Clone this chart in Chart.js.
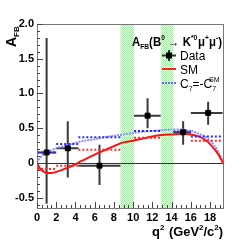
<!DOCTYPE html>
<html><head><meta charset="utf-8">
<script src="https://cdn.jsdelivr.net/npm/chart.js@4/dist/chart.umd.min.js"></script>
<style>html,body{margin:0;padding:0;background:#fff}#wrap{width:249px;height:242px}</style>
</head><body><div id="wrap"><canvas id="c" width="249" height="242"></canvas></div>
<script>
// ---- data ----
const binLo = [0, 2, 4.3, 10.09, 14.18, 16];
const binHi = [2, 4.3, 8.68, 12.86, 16, 19.3];
const dataX = [1.0, 3.2, 6.5, 11.5, 15.2, 17.8];
const dataY = [0.15, 0.21, -0.04, 0.68, 0.44, 0.72];
const errUp = [1.65, 0.39, 0.30, 0.25, 0.16, 0.16];
const errDown = [0.74, 0.42, 0.28, 0.18, 0.18, 0.17];
const smQ = [0, 0.3, 0.6, 1.0, 1.5, 2, 3, 4, 4.5, 5, 6, 6.5, 7, 8, 8.65, 9, 10, 11, 12, 13, 14, 15, 16, 17, 17.5, 18, 18.5, 19, 19.35];
const smA = [0, -0.08, -0.12, -0.145, -0.145, -0.13, -0.08, -0.02, 0.02, 0.05, 0.12, 0.15, 0.18, 0.24, 0.28, 0.295, 0.32, 0.35, 0.38, 0.40, 0.41, 0.42, 0.41, 0.37, 0.33, 0.27, 0.19, 0.09, 0];
const c7Q = [0, 0.3, 0.6, 1.0, 2, 3, 4, 5, 6, 7, 8, 9, 10, 11, 12, 13, 14, 15, 16, 17, 17.5, 18, 18.5, 19, 19.35];
const c7A = [0, 0.07, 0.11, 0.15, 0.21, 0.25, 0.29, 0.32, 0.34, 0.37, 0.39, 0.41, 0.43, 0.45, 0.46, 0.47, 0.48, 0.48, 0.46, 0.41, 0.38, 0.32, 0.24, 0.12, 0];
const smBin = [-0.09, -0.04, 0.19, 0.36, 0.42, 0.32];
const c7Bin = [0.15, 0.27, 0.37, 0.46, 0.45, 0.38];
const vetoLo = [8.68, 12.86];
const vetoHi = [10.09, 14.18];
const xTicks = [0, 2, 4, 6, 8, 10, 12, 14, 16, 18];
const yTicks = [-0.5, 0, 0.5, 1, 1.5, 2];

function binSegments(vals){
  const out=[];
  vals.forEach((v,i)=>{out.push({x:binLo[i],y:v});out.push({x:binHi[i],y:v});out.push({x:binHi[i],y:null});});
  return out;
}
const FONT='"Liberation Sans", Arial, sans-serif';

function makePattern(ctx){
  const p=document.createElement('canvas');p.width=2;p.height=2;
  const g=p.getContext('2d');g.fillStyle='#ffffff';g.fillRect(0,0,2,2);
  g.fillStyle='#a6e8a6';g.fillRect(0,0,1,1);g.fillRect(1,1,1,1);
  return ctx.createPattern(p,'repeat');
}

function drawRich(ctx, x, y, parts, weight, maxW){
  weight=weight||'bold';
  let w=0;
  parts.forEach(p=>{ctx.font=weight+' '+p[1]+'px '+FONT;w+=ctx.measureText(p[0]).width+(p[3]||0);});
  const s=(maxW&&w>maxW)?maxW/w:1;
  ctx.save();ctx.translate(x,y);ctx.scale(s,1);
  let cx=0;
  parts.forEach(p=>{
    ctx.font=weight+' '+p[1]+'px '+FONT;
    ctx.fillText(p[0], cx, (p[2]||0));
    cx+=ctx.measureText(p[0]).width+(p[3]||0);
  });
  ctx.restore();
}

const custom={
  id:'custom',
  beforeDatasetsDraw(chart){
    const {ctx,chartArea:a,scales:{x,y}}=chart;
    ctx.save();
    const pat=makePattern(ctx);
    ctx.fillStyle=pat;
    vetoLo.forEach((lo,i)=>{
      const x0=x.getPixelForValue(lo),x1=x.getPixelForValue(vetoHi[i]);
      ctx.fillRect(x0,a.top,x1-x0,a.bottom-a.top);
    });
    ctx.strokeStyle='#333';ctx.lineWidth=1;
    const y0=Math.round(y.getPixelForValue(0))+0.5;
    ctx.beginPath();ctx.moveTo(a.left,y0);ctx.lineTo(a.right,y0);ctx.stroke();
    ctx.strokeStyle='#3a3a3a';ctx.lineWidth=2;
    dataX.forEach((q,i)=>{
      const px=x.getPixelForValue(q),py=y.getPixelForValue(dataY[i]);
      ctx.beginPath();
      ctx.moveTo(x.getPixelForValue(binLo[i]),py);ctx.lineTo(Math.min(x.getPixelForValue(binHi[i]),a.right),py);
      ctx.moveTo(px,y.getPixelForValue(dataY[i]+errUp[i]));ctx.lineTo(px,y.getPixelForValue(dataY[i]-errDown[i]));
      ctx.stroke();
    });
    ctx.restore();
  },
  afterDraw(chart){
    const {ctx,chartArea:a,scales:{x,y}}=chart;
    ctx.save();
    ctx.strokeStyle='#777';ctx.lineWidth=1;
    ctx.strokeRect(Math.round(a.left)+0.5,Math.round(a.top)+0.5,Math.round(a.right-a.left)-1,Math.round(a.bottom-a.top));
    ctx.strokeStyle='#444';
    ctx.beginPath();
    for(let v=-0.6; v<=2.001; v+=0.1){
      const py=Math.round(y.getPixelForValue(v))+0.5;
      const major=Math.abs(v*2-Math.round(v*2))<1e-6;
      ctx.moveTo(a.left,py);ctx.lineTo(a.left+(major?6:3),py);
    }
    for(let v=0; v<=19.4; v+=0.5){
      const px=Math.round(x.getPixelForValue(v))+0.5;
      const major=Math.abs(v/2-Math.round(v/2))<1e-6;
      ctx.moveTo(px,a.bottom);ctx.lineTo(px,a.bottom-(major?6:3));
    }
    ctx.stroke();
    ctx.fillStyle='#000';ctx.textBaseline='alphabetic';ctx.textAlign='left';
    drawRich(ctx,152,236,[['q',13,0],['2',8,-6,1],[' (GeV',13,0],['2',8,-6],['/c',13,0],['2',8,-6],[')',13,0]],'bold',71);
    ctx.save();ctx.translate(16,47);ctx.rotate(-Math.PI/2);
    drawRich(ctx,0,0,[['A',14,0],['FB',8,3]]);
    ctx.restore();
    drawRich(ctx,132,46,[['A',12,0],['FB',7,3],['(B',12,0],['0',7,-6],[' \u2192 K',12,0],['*0',7,-6,1],['\u03bc',12,0],['+',7,-6],['\u03bc',12,0],['-',7,-6],[')',12,0]],'bold',90);
    ctx.font='12px '+FONT;ctx.fillStyle='#000';
    ctx.fillText('Data',180,60);ctx.fillText('SM',180,74);
    drawRich(ctx,180,88,[['C',12,0],['7',7,3],['=-C',12,0],['7',7,3,-7],['SM',7,-6]],'normal');
    ctx.strokeStyle='#333';ctx.lineWidth=2;
    ctx.beginPath();ctx.moveTo(162,55.5);ctx.lineTo(176,55.5);ctx.moveTo(169,50);ctx.lineTo(169,61);ctx.stroke();
    ctx.fillStyle='#000';ctx.fillRect(166,52.5,6,6);
    ctx.strokeStyle='#ff2020';ctx.beginPath();ctx.moveTo(162,69);ctx.lineTo(176,69);ctx.stroke();
    ctx.strokeStyle='#6a6aff';ctx.setLineDash([2,1]);ctx.beginPath();ctx.moveTo(162,83);ctx.lineTo(176,83);ctx.stroke();
    ctx.restore();
  }
};

new Chart(document.getElementById('c'),{
  type:'scatter',
  data:{datasets:[
    {label:'C7',type:'line',data:c7Q.map((q,i)=>({x:q,y:c7A[i]})),borderColor:'#8a8aff',borderWidth:2,borderDash:[2,1],pointRadius:0,tension:0.3,fill:false,order:4},
    {label:'SM',type:'line',data:smQ.map((q,i)=>({x:q,y:smA[i]})),borderColor:'#ff1010',borderWidth:2,pointRadius:0,tension:0.3,fill:false,order:3},
    {label:'C7bin',type:'line',data:binSegments(c7Bin),borderColor:'#2a2aff',borderWidth:2,borderDash:[2,2],pointRadius:0,spanGaps:false,order:2},
    {label:'SMbin',type:'line',data:binSegments(smBin),borderColor:'#ff2a2a',borderWidth:2,borderDash:[2,2],pointRadius:0,spanGaps:false,order:2},
    {label:'Data',data:dataX.map((q,i)=>({x:q,y:dataY[i]})),pointStyle:'rect',pointRadius:3.5,backgroundColor:'#000',borderColor:'#000',order:1}
  ]},
  options:{
    responsive:false,animation:false,
    layout:{padding:{left:0,top:24,right:25,bottom:0}},
    plugins:{legend:{display:false},tooltip:{enabled:false}},
    scales:{
      x:{type:'linear',min:0,max:19.45,grid:{display:false,drawTicks:false},border:{display:false},
        afterBuildTicks(s){s.ticks=xTicks.map(v=>({value:v}));},
        afterFit(s){s.height=34;},
        ticks:{font:{family:FONT,size:11,weight:'bold'},color:'#000',padding:3,maxRotation:0,autoSkip:false}},
      y:{type:'linear',min:-0.65,max:2,grid:{display:false,drawTicks:false},border:{display:false},
        afterBuildTicks(s){s.ticks=yTicks.map(v=>({value:v}));},
        afterFit(s){s.width=37;},
        ticks:{font:{family:FONT,size:11,weight:'bold'},color:'#000',padding:3}}
    }
  },
  plugins:[custom]
});
</script></body></html>
